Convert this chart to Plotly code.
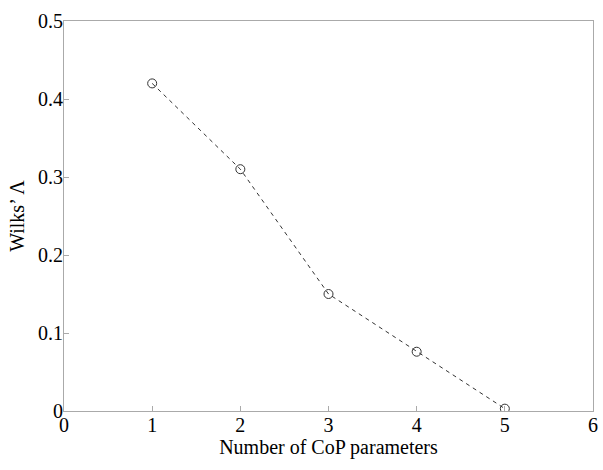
import plotly.graph_objects as go

n_params = [1, 2, 3, 4, 5]
wilks = [0.42, 0.31, 0.15, 0.076, 0.003]
x_ticks = [0, 1, 2, 3, 4, 5, 6]
y_ticks = [0, 0.1, 0.2, 0.3, 0.4, 0.5]
y_tick_text = ["0", "0.1", "0.2", "0.3", "0.4", "0.5"]

fig = go.Figure()
fig.add_trace(go.Scatter(
    x=n_params, y=wilks, mode="lines+markers",
    line=dict(color="#333333", width=1, dash="4px,4px"),
    marker=dict(symbol="circle-open", size=9, color="#333333", line=dict(width=1)),
    showlegend=False,
))

axis_common = dict(
    showgrid=False, zeroline=False, showline=True, linecolor="#aaaaaa", linewidth=1,
    mirror=True, ticks="inside", ticklen=5, tickcolor="#aaaaaa", automargin=False,
    tickfont=dict(family="Liberation Serif", size=20, color="black"),
)
fig.update_xaxes(range=[0, 6], tickvals=x_ticks, ticktext=[str(v) for v in x_ticks],
                 ticklabelstandoff=-4,
                 title=dict(text="Number of CoP parameters", standoff=2,
                            font=dict(family="Liberation Serif", size=20, color="black")),
                 **axis_common)
fig.update_yaxes(range=[0, 0.5], tickvals=y_ticks, ticktext=y_tick_text,
                 ticklabelstandoff=-4,
                 title=dict(text="Wilks’ Λ", standoff=8,
                            font=dict(family="Liberation Serif", size=20, color="black")),
                 **axis_common)
fig.update_layout(
    width=603, height=470,
    margin=dict(l=64, r=10, t=21, b=59),
    plot_bgcolor="white", paper_bgcolor="white",
)
fig.write_html("out.html",
               config={"displayModeBar": False},
               post_script="document.body.style.margin='0';document.body.style.overflow='hidden';")
